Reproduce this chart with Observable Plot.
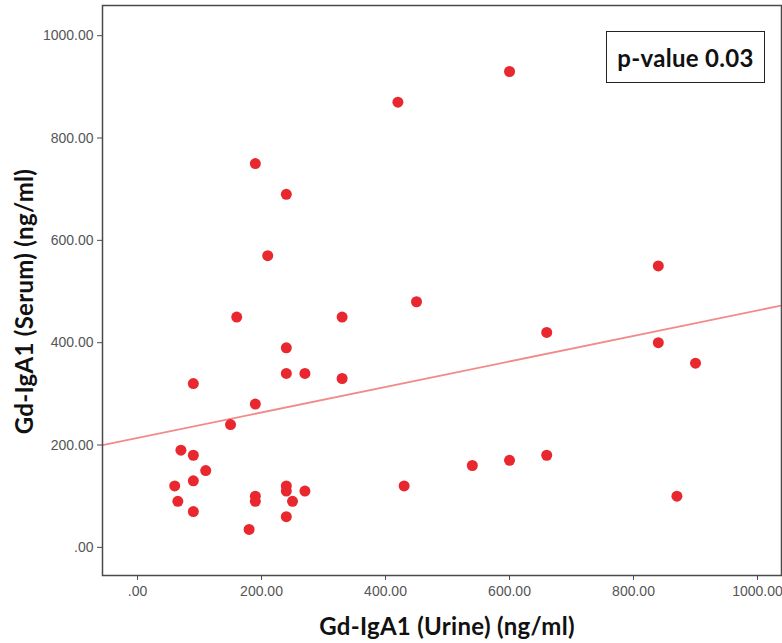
<!DOCTYPE html>
<html>
<head>
<meta charset="utf-8">
<script src="https://cdn.jsdelivr.net/npm/d3@7"></script>
<script src="https://cdn.jsdelivr.net/npm/@observablehq/plot@0.6"></script>
<style>
  html, body { margin: 0; padding: 0; background: #fff; }
  #wrap { position: relative; width: 782px; height: 643px; }
  #pbox {
    position: absolute; left: 606px; top: 31px; width: 157px; height: 50px;
    border: 1.5px solid #222; background: #fff;
    display: flex; align-items: center; justify-content: center;
    font-family: Lato, sans-serif; font-weight: bold; font-size: 24px; letter-spacing: 0.3px; color: #111;
  }
</style>
</head>
<body>
<div id="wrap"></div>
<script>
// Gd-IgA1 in urine (x) and serum (y), ng/ml
const urine = [600, 420, 190, 240, 210, 840, 160, 330, 450, 660, 240, 840, 900, 90, 240, 270, 330, 190, 150, 70,
               90, 110, 60, 90, 65, 90, 190, 190, 240, 240, 250, 240, 270, 180, 430, 540, 600, 660, 870];
const serum = [930, 870, 750, 690, 570, 550, 450, 450, 480, 420, 390, 400, 360, 320, 340, 340, 330, 280, 240, 190,
               180, 150, 120, 130, 90, 70, 100, 90, 120, 110, 90, 60, 110, 35, 120, 160, 170, 180, 100];
const ticks = [0, 200, 400, 600, 800, 1000];
const xTitle = "Gd-IgA1 (Urine) (ng/ml)";
const yTitle = "Gd-IgA1 (Serum) (ng/ml)";
const pText = "p-value 0.03";

const data = urine.map((u, i) => ({urine: u, serum: serum[i]}));
const fmt = d => d === 0 ? ".00" : d.toFixed(2);

// least-squares fit computed from the data
const mx = d3.mean(urine), my = d3.mean(serum);
const slope = d3.sum(urine, (u, i) => (u - mx) * (serum[i] - my)) / d3.sum(urine, u => (u - mx) ** 2);
const intercept = my - slope * mx;

const xDomain = [-56.5, 1038.7];
const fitLine = xDomain.map(x => ({urine: x, serum: intercept + slope * x}));

const chart = Plot.plot({
  width: 782,
  height: 643,
  marginLeft: 102,
  marginRight: 1,
  marginTop: 5,
  marginBottom: 68,
  style: {fontFamily: "'Liberation Sans', Arial, sans-serif", fontSize: "14px", color: "#555", background: "#fff"},
  x: {domain: xDomain, ticks: ticks},
  y: {domain: [-55, 1059], ticks: ticks},
  marks: [
    Plot.line(fitLine, {x: "urine", y: "serum", stroke: "#f28a8a", strokeWidth: 1.8, clip: true}),
    Plot.dot(data, {x: "urine", y: "serum", r: 5.5, fill: "#e8282e", stroke: "none"}),
    Plot.frame({stroke: "#4a4a4a", strokeWidth: 1.5}),
    Plot.axisX({ticks: ticks, tickFormat: fmt, tickSize: 5, tickPadding: 6, label: null, stroke: "#4a4a4a", fill: "#555"}),
    Plot.axisY({ticks: ticks, tickFormat: fmt, tickSize: 5, tickPadding: 4, label: null, stroke: "#4a4a4a", fill: "#555"}),
    Plot.text([xTitle], {frameAnchor: "bottom", dx: 5, dy: 52, lineAnchor: "middle", textAnchor: "middle", fontSize: 24, fontWeight: "bold",
      fontFamily: "Lato, sans-serif", fill: "#111", style: "letter-spacing:0.3px"}),
    Plot.text([yTitle], {frameAnchor: "left", dx: -77, dy: 11, rotate: -90, lineAnchor: "middle", textAnchor: "middle", fontSize: 24, fontWeight: "bold",
      fontFamily: "Lato, sans-serif", fill: "#111"})
  ]
});

chart.querySelectorAll("text").forEach(t => {
  if (t.textContent === xTitle || t.textContent === yTitle) t.style.letterSpacing = "0.3px";
});

const wrap = document.getElementById("wrap");
wrap.appendChild(chart);
const box = document.createElement("div");
box.id = "pbox";
box.textContent = pText;
wrap.appendChild(box);
</script>
</body>
</html>
